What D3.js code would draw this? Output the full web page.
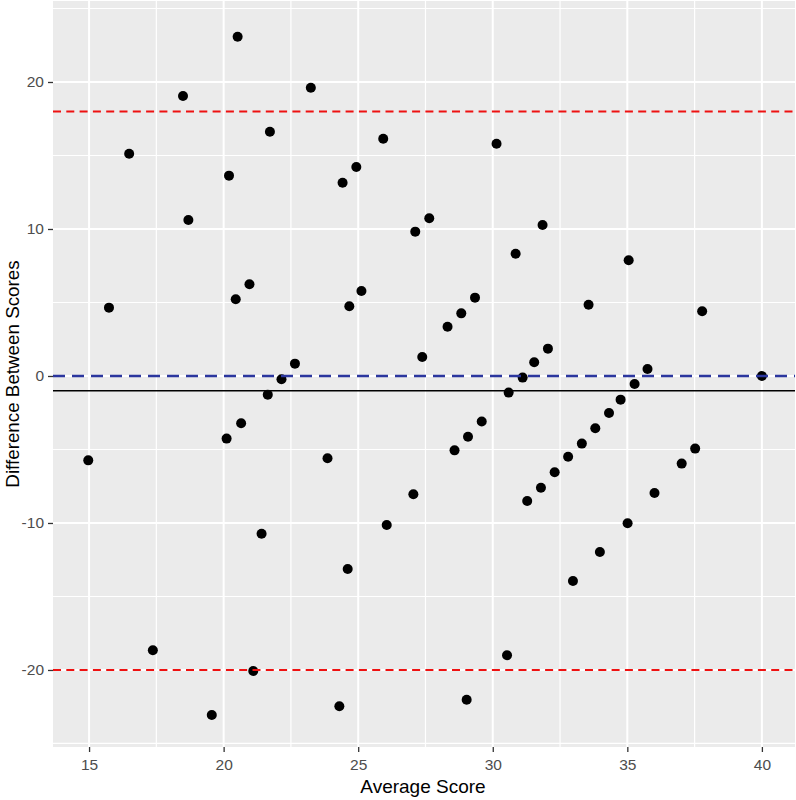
<!DOCTYPE html>
<html>
<head>
<meta charset="utf-8">
<script src="https://cdn.jsdelivr.net/npm/d3@7"></script>
<style>
  html, body { margin: 0; padding: 0; background: #ffffff; }
  svg { display: block; }
  text { font-family: "Liberation Sans", Arial, sans-serif; }
</style>
</head>
<body>
<svg id="chart" width="796" height="800"></svg>
<script>
// Average of the two scores (x)
const avgScore = [
  14.97, 15.74, 16.49, 17.37, 18.49, 18.69, 19.56, 20.11, 20.20, 20.52,
  20.45, 20.65, 20.96, 21.10, 21.41, 21.72, 21.64, 22.15, 22.65, 23.24,
  23.86, 24.30, 24.42, 24.61, 24.67, 24.93, 25.12, 25.93, 26.06, 27.05,
  27.12, 27.38, 27.64, 28.32, 28.58, 28.83, 29.03, 29.08, 29.34, 29.59,
  30.14, 30.53, 30.59, 30.85, 31.11, 31.28, 31.54, 31.79, 31.85, 32.05,
  32.30, 32.80, 32.98, 33.31, 33.56, 33.81, 33.98, 34.32, 34.75, 35.01,
  35.05, 35.27, 35.75, 36.01, 37.02, 37.52, 37.78, 40.00
];
// Difference between the two scores (y)
const diffScore = [
  -5.74, 4.65, 15.12, -18.66, 19.05, 10.61, -23.06, -4.26, 13.63, 23.08,
  5.22, -3.22, 6.24, -20.07, -10.73, 16.62, -1.27, -0.22, 0.84, 19.61,
  -5.60, -22.47, 13.15, -13.13, 4.75, 14.22, 5.78, 16.14, -10.14, -8.05,
  9.82, 1.29, 10.73, 3.35, -5.06, 4.26, -22.02, -4.13, 5.33, -3.10,
  15.80, -19.00, -1.13, 8.32, -0.11, -8.50, 0.93, -7.60, 10.27, 1.86,
  -6.55, -5.50, -13.95, -4.60, 4.85, -3.56, -11.97, -2.52, -1.61, -10.02,
  7.87, -0.54, 0.48, -7.96, -5.96, -4.94, 4.40, 0.00
];
// Reference lines
const meanDiff = -1;
const limits = [18, -20];
const zeroLine = 0;

const xTicks = [15, 20, 25, 30, 35, 40];
const xMinor = [17.5, 22.5, 27.5, 32.5, 37.5];
const yTicks = [-20, -10, 0, 10, 20];
const yMinor = [-25, -15, -5, 5, 15, 25];

const xTitle = "Average Score";
const yTitle = "Difference Between Scores";

const svg = d3.select("#chart");
const panel = { left: 53, right: 795, top: 1, bottom: 747 };

const x = d3.scaleLinear().domain([13.66, 41.23]).range([panel.left, panel.right]);
const y = d3.scaleLinear().domain([-25.24, 25.51]).range([panel.bottom, panel.top]);

// panel background
svg.append("rect")
  .attr("x", panel.left).attr("y", panel.top)
  .attr("width", panel.right - panel.left)
  .attr("height", panel.bottom - panel.top)
  .attr("fill", "#ebebeb");

const grid = svg.append("g");
// minor grid
grid.selectAll(".xmin").data(xMinor).join("line")
  .attr("x1", d => x(d)).attr("x2", d => x(d))
  .attr("y1", panel.top).attr("y2", panel.bottom)
  .attr("stroke", "#ffffff").attr("stroke-width", 1.2);
grid.selectAll(".ymin").data(yMinor).join("line")
  .attr("y1", d => y(d)).attr("y2", d => y(d))
  .attr("x1", panel.left).attr("x2", panel.right)
  .attr("stroke", "#ffffff").attr("stroke-width", 1.2);
// major grid
grid.selectAll(".xmaj").data(xTicks).join("line")
  .attr("x1", d => x(d)).attr("x2", d => x(d))
  .attr("y1", panel.top).attr("y2", panel.bottom)
  .attr("stroke", "#ffffff").attr("stroke-width", 2);
grid.selectAll(".ymaj").data(yTicks).join("line")
  .attr("y1", d => y(d)).attr("y2", d => y(d))
  .attr("x1", panel.left).attr("x2", panel.right)
  .attr("stroke", "#ffffff").attr("stroke-width", 2);

// points
svg.append("g").selectAll("circle")
  .data(avgScore.map((a, i) => [a, diffScore[i]]))
  .join("circle")
  .attr("cx", d => x(d[0]))
  .attr("cy", d => y(d[1]))
  .attr("r", 5)
  .attr("fill", "#000000");

// reference lines
const refs = svg.append("g");
refs.selectAll(".lim").data(limits).join("line")
  .attr("x1", panel.left).attr("x2", panel.right)
  .attr("y1", d => y(d)).attr("y2", d => y(d))
  .attr("stroke", "#ee1111").attr("stroke-width", 2)
  .attr("stroke-dasharray", "8,5.3");
refs.append("line")
  .attr("x1", panel.left).attr("x2", panel.right)
  .attr("y1", y(zeroLine)).attr("y2", y(zeroLine))
  .attr("stroke", "#2b369e").attr("stroke-width", 2.5)
  .attr("stroke-dasharray", "12,7");
refs.append("line")
  .attr("x1", panel.left).attr("x2", panel.right)
  .attr("y1", y(meanDiff)).attr("y2", y(meanDiff))
  .attr("stroke", "#000000").attr("stroke-width", 1.6);

// axes
const fmt = d => String(d);
const xAxis = svg.append("g")
  .attr("transform", `translate(0,${panel.bottom})`)
  .call(d3.axisBottom(x).tickValues(xTicks).tickSize(5).tickPadding(7).tickFormat(fmt));
const yAxis = svg.append("g")
  .attr("transform", `translate(${panel.left},0)`)
  .call(d3.axisLeft(y).tickValues(yTicks).tickSize(5).tickPadding(4).tickFormat(fmt));
[xAxis, yAxis].forEach(g => {
  g.select(".domain").remove();
  g.selectAll(".tick line").attr("stroke", "#333333").attr("stroke-width", 1.3);
  g.selectAll(".tick text")
    .attr("fill", "#4d4d4d")
    .style("font-size", "15.5px")
    .style("font-family", '"Liberation Sans", Arial, sans-serif');
});

// titles
svg.append("text")
  .attr("x", 423)
  .attr("y", 793)
  .attr("text-anchor", "middle")
  .attr("fill", "#000000")
  .style("font-size", "19px")
  .text(xTitle);
svg.append("text")
  .attr("transform", `translate(19,${(panel.top + panel.bottom) / 2}) rotate(-90)`)
  .attr("text-anchor", "middle")
  .attr("fill", "#000000")
  .style("font-size", "18.8px")
  .text(yTitle);
</script>
</body>
</html>
